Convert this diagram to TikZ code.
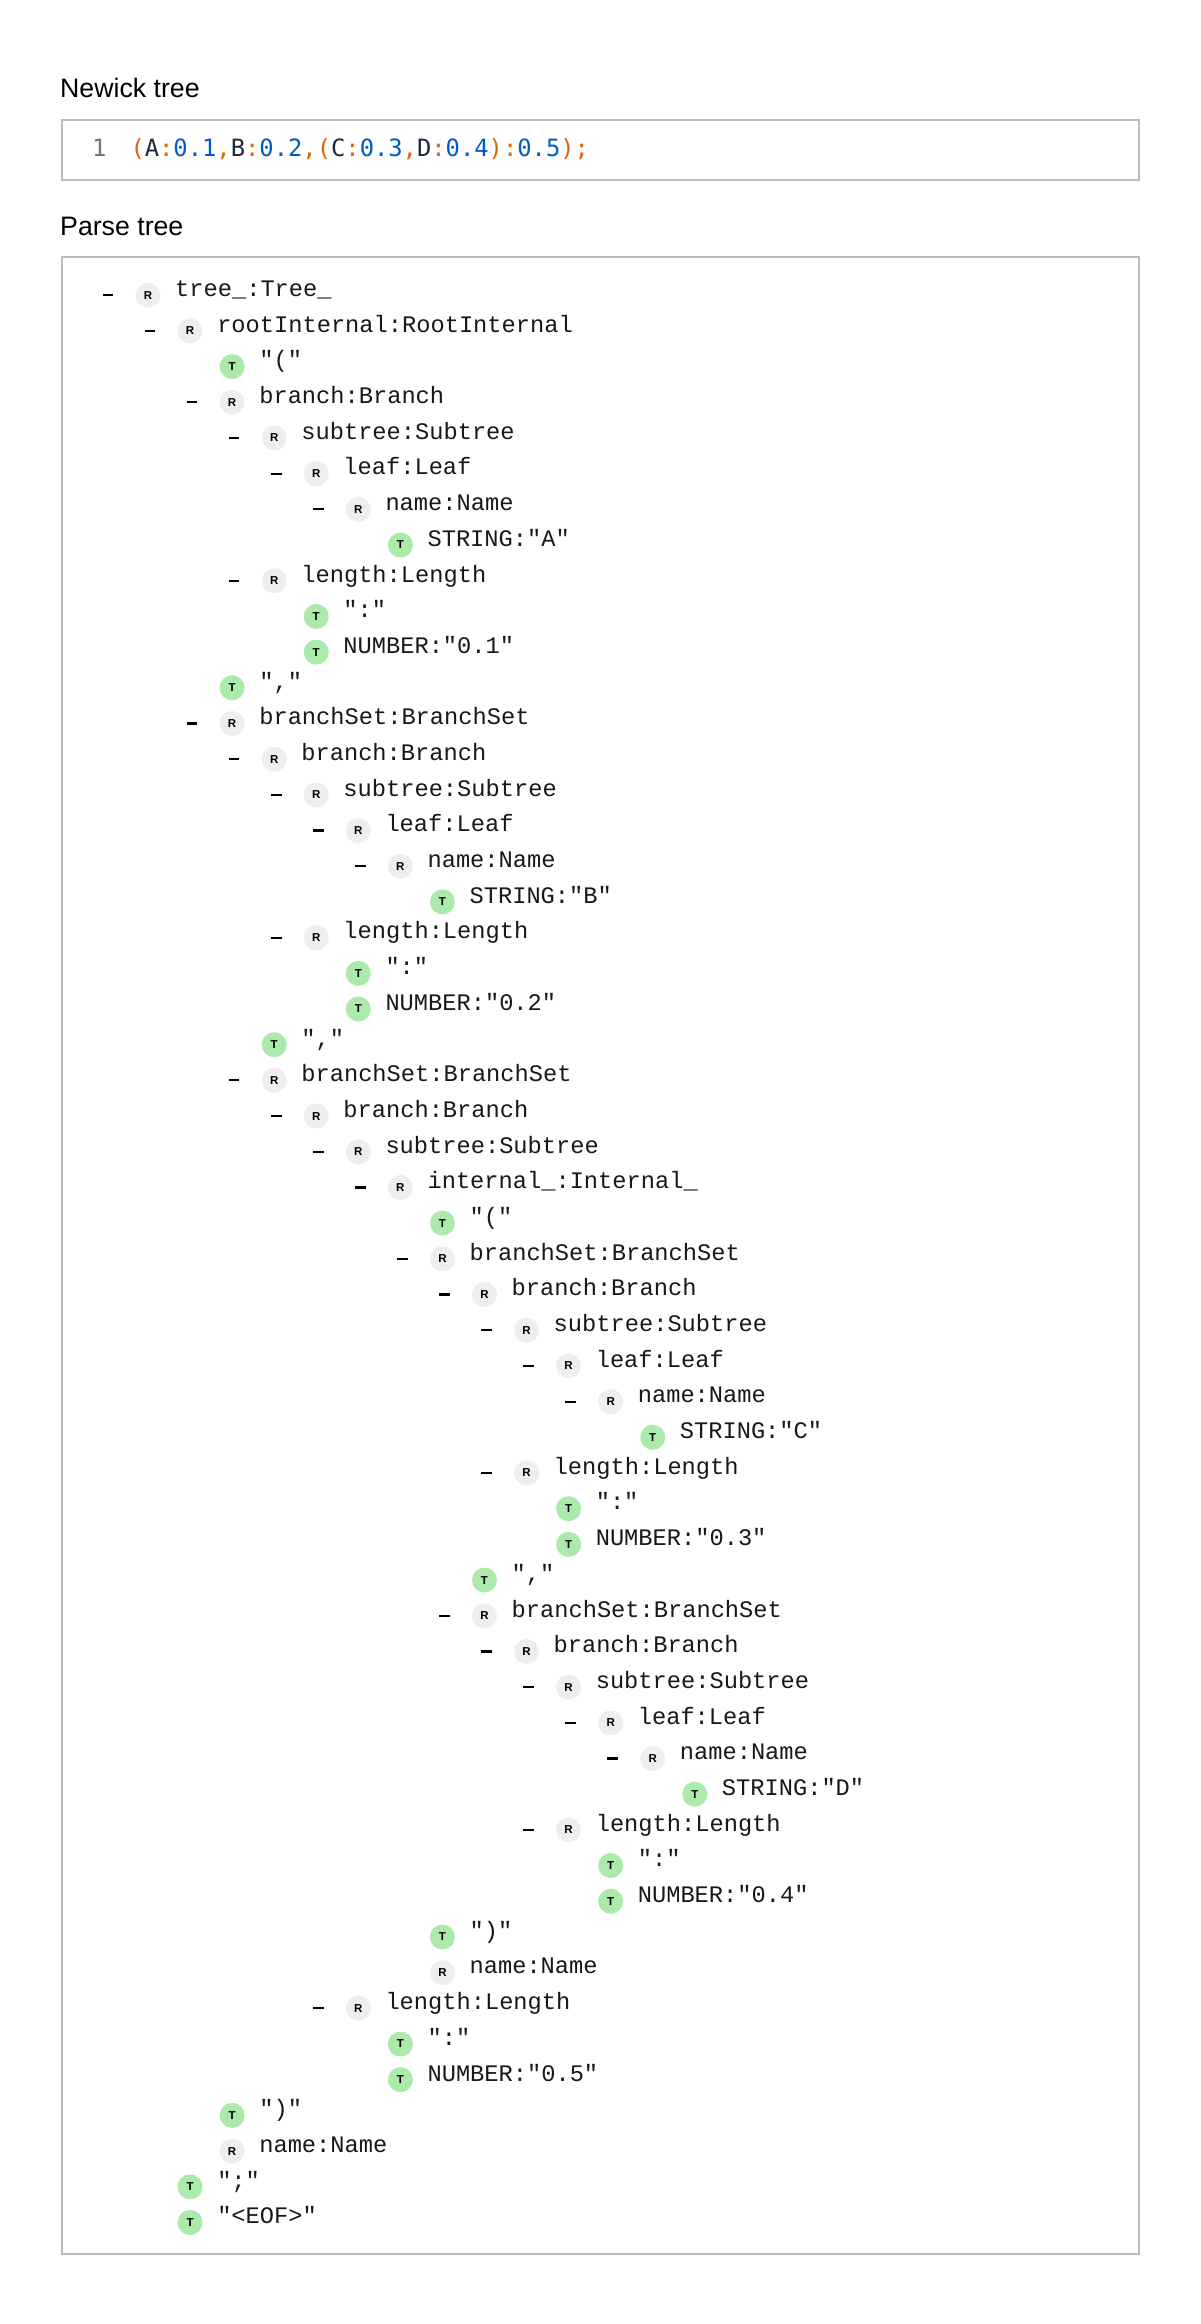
\documentclass[tikz,border=0pt]{standalone}
\usepackage{fontspec}
\setmainfont{Liberation Sans}
\setmonofont{Liberation Mono}
\newfontfamily\codefont{DejaVu Sans Mono}
\definecolor{boxgray}{RGB}{187,187,187}
\definecolor{rgray}{RGB}{238,238,238}
\definecolor{tgreen}{RGB}{171,234,171}
\definecolor{txt}{RGB}{24,24,24}
\definecolor{cor}{RGB}{227,98,9}
\definecolor{cbl}{RGB}{0,92,197}
\definecolor{cnv}{RGB}{28,40,66}
\definecolor{lngray}{RGB}{110,119,129}
\newcommand\po[1]{\textcolor{cor}{#1}}
\newcommand\pb[1]{\textcolor{cbl}{#1}}
\newcommand\pn[1]{\textcolor{cnv}{#1}}
\tikzset{
  boxline/.style={draw=boxgray, line width=2pt},
  heading/.style={anchor=base west, inner sep=0pt, font=\fontsize{26.7}{30}\selectfont, text=black},
  rball/.style={circle, minimum size=25pt, inner sep=0pt, fill=rgray, text=black, font=\bfseries\fontsize{11.5}{12}\selectfont},
  tball/.style={circle, minimum size=25pt, inner sep=0pt, fill=tgreen, text=black, font=\bfseries\fontsize{11.5}{12}\selectfont},
  lab/.style={anchor=base west, inner sep=0pt, text=txt, font=\ttfamily\fontsize{23.7}{28}\selectfont},
  codetext/.style={anchor=base west, inner sep=0pt, font=\codefont\fontsize{23.8}{28}\selectfont},
  tickbar/.style={draw=black, line width=2.2pt},
}
\newcommand\rowpos[2]{\pgfmathsetmacro\cx{148+42.06*#2}\pgfmathsetmacro\cy{295.2+35.69*(#1-1)}}
\newcommand\rowR[3]{\rowpos{#1}{#2}%
  \node[rball] (c#1) at (\cx,\cy) {R};
  \draw[tickbar] ([xshift=-45.3pt]c#1.center) -- ([xshift=-34.7pt]c#1.center);
  \node[lab] (t#1) at ([xshift=27pt,yshift=-1.3pt]c#1.center) {#3};}
\newcommand\rowN[3]{\rowpos{#1}{#2}%
  \node[rball] (c#1) at (\cx,\cy) {R};
  \node[lab] (t#1) at ([xshift=27pt,yshift=-1.3pt]c#1.center) {#3};}
\newcommand\rowT[3]{\rowpos{#1}{#2}%
  \node[tball] (c#1) at (\cx,\cy) {T};
  \node[lab] (t#1) at ([xshift=27pt,yshift=-1.3pt]c#1.center) {#3};}
\begin{document}
\begin{tikzpicture}[x=1pt,y=-1pt]
\useasboundingbox (0,0) rectangle (1200,2324);
\fill[white] (0,0) rectangle (1200,2324);
% headings
\node[heading] (h1) at (60,97.7) {Newick tree};
\node[heading] (h2) at (60,235.7) {Parse tree};
% boxes
\draw[boxline] (61.7,120.3) rectangle (1138.7,180.3);
\draw[boxline] (61.7,257) rectangle (1138.7,2254);
% code line
\node[codetext, text=lngray] (ln) at (91.9,156.5) {1};
\node[codetext] (code) at (130.3,156.5)
 {\po{(}\pn{A}\po{:}\pb{0.1}\po{,}\pn{B}\po{:}\pb{0.2}\po{,}\po{(}\pn{C}\po{:}\pb{0.3}\po{,}\pn{D}\po{:}\pb{0.4}\po{)}\po{:}\pb{0.5}\po{)}\po{;}};
% parse tree rows
\rowR{1}{0}{tree\_:Tree\_}
\rowR{2}{1}{rootInternal:RootInternal}
\rowT{3}{2}{"("}
\rowR{4}{2}{branch:Branch}
\rowR{5}{3}{subtree:Subtree}
\rowR{6}{4}{leaf:Leaf}
\rowR{7}{5}{name:Name}
\rowT{8}{6}{STRING:"A"}
\rowR{9}{3}{length:Length}
\rowT{10}{4}{":"}
\rowT{11}{4}{NUMBER:"0.1"}
\rowT{12}{2}{","}
\rowR{13}{2}{branchSet:BranchSet}
\rowR{14}{3}{branch:Branch}
\rowR{15}{4}{subtree:Subtree}
\rowR{16}{5}{leaf:Leaf}
\rowR{17}{6}{name:Name}
\rowT{18}{7}{STRING:"B"}
\rowR{19}{4}{length:Length}
\rowT{20}{5}{":"}
\rowT{21}{5}{NUMBER:"0.2"}
\rowT{22}{3}{","}
\rowR{23}{3}{branchSet:BranchSet}
\rowR{24}{4}{branch:Branch}
\rowR{25}{5}{subtree:Subtree}
\rowR{26}{6}{internal\_:Internal\_}
\rowT{27}{7}{"("}
\rowR{28}{7}{branchSet:BranchSet}
\rowR{29}{8}{branch:Branch}
\rowR{30}{9}{subtree:Subtree}
\rowR{31}{10}{leaf:Leaf}
\rowR{32}{11}{name:Name}
\rowT{33}{12}{STRING:"C"}
\rowR{34}{9}{length:Length}
\rowT{35}{10}{":"}
\rowT{36}{10}{NUMBER:"0.3"}
\rowT{37}{8}{","}
\rowR{38}{8}{branchSet:BranchSet}
\rowR{39}{9}{branch:Branch}
\rowR{40}{10}{subtree:Subtree}
\rowR{41}{11}{leaf:Leaf}
\rowR{42}{12}{name:Name}
\rowT{43}{13}{STRING:"D"}
\rowR{44}{10}{length:Length}
\rowT{45}{11}{":"}
\rowT{46}{11}{NUMBER:"0.4"}
\rowT{47}{7}{")"}
\rowN{48}{7}{name:Name}
\rowR{49}{5}{length:Length}
\rowT{50}{6}{":"}
\rowT{51}{6}{NUMBER:"0.5"}
\rowT{52}{2}{")"}
\rowN{53}{2}{name:Name}
\rowT{54}{1}{";"}
\rowT{55}{1}{"<EOF>"}
\end{tikzpicture}
\end{document}
